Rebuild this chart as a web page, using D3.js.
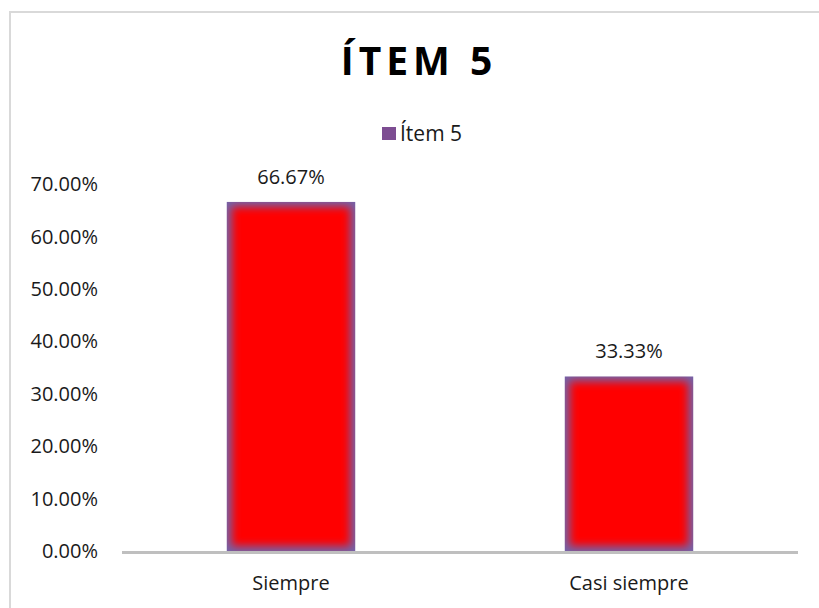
<!DOCTYPE html>
<html>
<head>
<meta charset="utf-8">
<script src="https://cdn.jsdelivr.net/npm/d3@7"></script>
<style>
  html, body { margin: 0; padding: 0; background: #fff; }
  text { font-family: "Open Sans", "Noto Sans", sans-serif; fill: #1a1a1a; }
</style>
</head>
<body>
<div id="chart"></div>
<script>
var width = 819,
    height = 608;

// data
var categories = ["Siempre", "Casi siempre"];
var values = [0.6667, 0.3333];
var seriesName = "Ítem 5";
var titleText = "ÍTEM 5";
var yTicks = [0, 0.1, 0.2, 0.3, 0.4, 0.5, 0.6, 0.7];

var svg = d3.select("#chart").append("svg")
    .attr("width", width)
    .attr("height", height);

var defs = svg.append("defs");
// soft edge for the red core of each bar
defs.append("filter")
    .attr("id", "soft")
    .attr("x", "-20%").attr("y", "-20%")
    .attr("width", "140%").attr("height", "140%")
  .append("feGaussianBlur")
    .attr("stdDeviation", 4.5);

// chart frame (only top + left show in the picture)
svg.append("path")
    .attr("d", "M10," + height + "V12H" + width)
    .attr("fill", "none")
    .attr("stroke", "#d9d9d9")
    .attr("stroke-width", 2);

var x = d3.scaleBand()
    .domain(categories)
    .range([122, 798])
    .paddingInner(0.62)
    .paddingOuter(0.31);

var y = d3.scaleLinear()
    .domain([0, 0.7])
    .range([551, 184.5]);

// y axis labels, no line
var yAxis = d3.axisLeft(y)
    .tickValues(yTicks)
    .tickFormat(d3.format(".2%"))
    .tickSize(0)
    .tickPadding(0);

var yg = svg.append("g")
    .attr("transform", "translate(98,0)")
    .call(yAxis);
yg.select(".domain").remove();
yg.selectAll("text")
    .attr("font-size", 20)
    .attr("fill", "#1a1a1a")
    .style("font-family", "'Open Sans', sans-serif");

// bars
var bars = svg.selectAll(".bar")
    .data(values)
    .enter().append("g")
    .attr("class", "bar");

bars.each(function(d, i) {
  var g = d3.select(this);
  var bx = x(categories[i]), bw = x.bandwidth();
  var by = y(d), bh = y(0) - y(d);
  var cid = "clip" + i;
  defs.append("clipPath").attr("id", cid)
    .append("rect")
      .attr("x", bx).attr("y", by)
      .attr("width", bw).attr("height", bh);
  g.append("rect")
      .attr("x", bx).attr("y", by)
      .attr("width", bw).attr("height", bh)
      .attr("fill", "#7462a8");
  g.append("g")
      .attr("clip-path", "url(#" + cid + ")")
    .append("rect")
      .attr("x", bx + 5).attr("y", by + 5)
      .attr("width", bw - 10).attr("height", bh - 10)
      .attr("fill", "#ff0000")
      .attr("filter", "url(#soft)");
});

// baseline
svg.append("line")
    .attr("x1", 122).attr("x2", 798)
    .attr("y1", y(0) + 1.5).attr("y2", y(0) + 1.5)
    .attr("stroke", "#bfbfbf")
    .attr("stroke-width", 3);

// data labels
svg.selectAll(".dlabel")
    .data(values)
    .enter().append("text")
    .attr("class", "dlabel")
    .attr("x", function(d, i) { return x(categories[i]) + x.bandwidth() / 2; })
    .attr("y", function(d) { return y(d) - 18; })
    .attr("text-anchor", "middle")
    .attr("font-size", 20)
    .text(function(d) { return d3.format(".2%")(d); });

// category labels
svg.selectAll(".xlabel")
    .data(categories)
    .enter().append("text")
    .attr("class", "xlabel")
    .attr("x", function(d) { return x(d) + x.bandwidth() / 2; })
    .attr("y", 590)
    .attr("text-anchor", "middle")
    .attr("font-size", 20)
    .text(function(d) { return d; });

// title
svg.append("text")
    .attr("x", 419)
    .attr("y", 75)
    .attr("text-anchor", "middle")
    .attr("font-size", 39)
    .attr("font-weight", "bold")
    .attr("letter-spacing", 5)
    .style("fill", "#000")
    .text(titleText);

// legend
var lg = svg.append("g").attr("transform", "translate(382,127)");
lg.append("rect")
    .attr("width", 14).attr("height", 13)
    .attr("fill", "#7d4d92");
lg.append("text")
    .attr("x", 18)
    .attr("y", 13.5)
    .attr("font-size", 21)
    .text(seriesName);
</script>
</body>
</html>
